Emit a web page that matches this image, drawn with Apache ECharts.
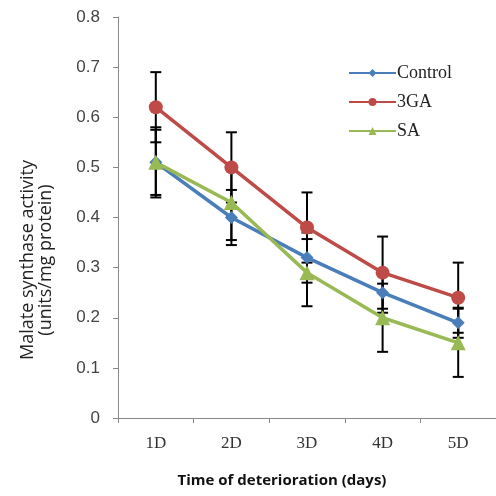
<!DOCTYPE html>
<html>
<head>
<meta charset="utf-8">
<script src="https://cdn.jsdelivr.net/npm/echarts@6/dist/echarts.min.js"></script>
<style>
  html, body { margin: 0; padding: 0; background: #fff; }
  #chart { width: 496px; height: 496px; }
</style>
</head>
<body>
<div id="chart"></div>
<script>
const days = ['1D', '2D', '3D', '4D', '5D'];
const yTicks = [0, 0.1, 0.2, 0.3, 0.4, 0.5, 0.6, 0.7, 0.8];

const control = [0.51, 0.40, 0.32, 0.25, 0.19];
const ga3 = [0.62, 0.50, 0.38, 0.29, 0.24];
const sa = [0.51, 0.43, 0.29, 0.20, 0.15];

// error bar half-widths (+/-)
const controlErr = [0.065, 0.055, 0.05, 0.04, 0.03];
const ga3Err = [0.07, 0.07, 0.07, 0.072, 0.07];
const saErr = [0.07, 0.075, 0.067, 0.068, 0.068];

const chart = echarts.init(document.getElementById('chart'));

function errData(vals, errs) {
  return vals.map((v, i) => [i, v - errs[i], v + errs[i]]);
}

function errorSeries(vals, errs) {
  return {
    type: 'custom',
    z: 1,
    silent: true,
    data: errData(vals, errs),
    renderItem: (params, api) => {
      const x = api.value(0);
      const lo = api.coord([x, api.value(1)]);
      const hi = api.coord([x, api.value(2)]);
      const w = 5.5;
      const style = { stroke: '#000', lineWidth: 2 };
      return {
        type: 'group',
        children: [
          { type: 'line', shape: { x1: lo[0], y1: lo[1], x2: hi[0], y2: hi[1] }, style },
          { type: 'line', shape: { x1: lo[0] - w, y1: lo[1], x2: lo[0] + w, y2: lo[1] }, style },
          { type: 'line', shape: { x1: hi[0] - w, y1: hi[1], x2: hi[0] + w, y2: hi[1] }, style }
        ]
      };
    }
  };
}

function lineSeries(name, vals, color, symbol, size) {
  return {
    name: name,
    type: 'line',
    z: 3,
    data: vals,
    symbol: symbol,
    symbolSize: size,
    lineStyle: { color: color, width: 3.5 },
    itemStyle: { color: color },
    emphasis: { disabled: true }
  };
}

const option = {
  animation: false,
  grid: { left: 118, top: 17, right: -5, bottom: 78 },
  legend: {
    orient: 'vertical',
    left: 343,
    top: 59,
    itemWidth: 47,
    itemHeight: 10,
    itemGap: 11,
    textStyle: { fontFamily: 'Liberation Serif', fontSize: 18, color: '#222', padding: [0, 0, 0, -4] },
    data: ['Control', '3GA', 'SA']
  },
  graphic: [{
    type: 'text',
    x: 37,
    y: 260,
    rotation: Math.PI / 2,
    style: {
      text: 'Malate synthase activity\n(units/mg protein)',
      font: '18px "Open Sans"',
      fill: '#222',
      align: 'center',
      verticalAlign: 'middle',
      lineHeight: 18
    }
  }],
  xAxis: {
    type: 'category',
    data: days,
    boundaryGap: true,
    axisLine: { lineStyle: { color: '#888', width: 1 } },
    axisTick: { show: true, length: 5, lineStyle: { color: '#888' } },
    axisLabel: { fontFamily: 'Liberation Serif', fontSize: 17, color: '#333', margin: 17 },
    name: 'Time of deterioration (days)',
    nameLocation: 'middle',
    nameGap: 55,
    nameTextStyle: { fontFamily: 'Open Sans', fontSize: 15, fontWeight: 'bold', color: '#111', padding: [0, 0, 0, -50] }
  },
  yAxis: {
    type: 'value',
    min: 0,
    max: 0.8,
    interval: 0.1,
    splitLine: { show: false },
    axisLine: { show: true, lineStyle: { color: '#888', width: 1 } },
    axisTick: { show: true, length: 5, lineStyle: { color: '#888' } },
    axisLabel: {
      fontFamily: 'Liberation Sans', fontSize: 17, color: '#444', margin: 18,
      formatter: v => {
        const t = yTicks.find(k => Math.abs(k - v) < 1e-9);
        return t === undefined ? '' : (t === 0 ? '0' : t.toFixed(1));
      }
    }
  },
  series: [
    errorSeries(control, controlErr),
    errorSeries(ga3, ga3Err),
    errorSeries(sa, saErr),
    lineSeries('Control', control, '#4a7ebb', 'diamond', 13),
    lineSeries('3GA', ga3, '#be4b48', 'circle', 14),
    lineSeries('SA', sa, '#98b954', 'triangle', 15)
  ]
};

chart.setOption(option);
</script>
</body>
</html>
